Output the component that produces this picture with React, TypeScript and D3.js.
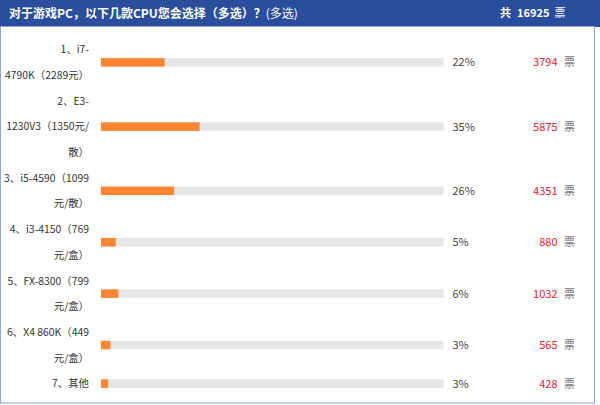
import React from "react";
import * as d3 from "d3";

const title = "对于游戏PC，以下几款CPU您会选择（多选）？";
const titleSuffix = "(多选)";
const total = 16925;
const labelLines: string[][] = [
  ["1、i7-", "4790K（2289元）"],
  ["2、E3-", "1230V3（1350元/", "散）"],
  ["3、i5-4590（1099", "元/散）"],
  ["4、i3-4150（769", "元/盒）"],
  ["5、FX-8300（799", "元/盒）"],
  ["6、X4 860K（449", "元/盒）"],
  ["7、其他"],
];
const votes = [3794, 5875, 4351, 880, 1032, 565, 428];
const percents = [22, 35, 26, 5, 6, 3, 3];

const W = 600;
const H = 405;
const FONT = "'Microsoft YaHei', 'Noto Sans CJK SC', sans-serif";

export default function App() {
  const lineH = 25.7;
  const firstLineY = 49.5;
  const starts = labelLines.map((_, i) =>
    d3.sum(labelLines.slice(0, i), (l) => l.length)
  );
  const totalLines = d3.sum(labelLines, (l) => l.length);
  const yLine = d3
    .scaleLinear()
    .domain([0, totalLines - 1])
    .range([firstLineY, firstLineY + (totalLines - 1) * lineH]);
  const trackX0 = 101;
  const trackX1 = 443.5;
  const xFill = d3.scaleLinear().domain([0, total]).range([0, 284]);
  const barH = 8.5;

  return (
    <svg
      width={W}
      height={H}
      style={{ position: "fixed", left: 0, top: 0, background: "#fff" }}
      fontFamily={FONT}
    >
      <rect x={0} y={0} width={W} height={27} fill="#2b4e9c" />
      <rect
        x={0.5}
        y={26.5}
        width={594}
        height={376.5}
        fill="none"
        stroke="#8ea5d6"
        strokeWidth={1}
      />
      <text x={9} y={13.5} dy="0.36em" fill="#fff" fontSize={12} fontWeight="bold">
        {title}
        <tspan fontWeight="normal">{titleSuffix}</tspan>
      </text>
      <g fill="#fff" fontSize={11} fontWeight="bold">
        <text x={500} y={13.5} dy="0.36em">共</text>
        <text x={517} y={13.5} dy="0.36em">{total}</text>
        <text x={554.5} y={13.5} dy="0.36em" fill="#d0d8ea">票</text>
      </g>
      {labelLines.map((lines, i) => {
        const yc = yLine(starts[i] + (lines.length - 1) / 2);
        return (
          <g key={i}>
            {lines.map((ln, j) => (
              <text
                key={j}
                x={89}
                y={yLine(starts[i] + j)}
                dy="0.36em"
                textAnchor="end"
                fontSize={10.4}
                fill="#333"
              >
                {ln}
              </text>
            ))}
            <rect x={trackX0} y={yc - barH / 2} width={trackX1 - trackX0} height={barH} fill="#e6e6e6" />
            <rect x={trackX0} y={yc - barH / 2} width={xFill(votes[i])} height={barH} fill="#ff8533" />
            <text x={452.5} y={yc} dy="0.36em" fontSize={11} fill="#444">
              {percents[i] + "%"}
            </text>
            <text x={557.5} y={yc} dy="0.36em" textAnchor="end" fontSize={11} fill="#e4202e">
              {votes[i]}
            </text>
            <text x={564} y={yc} dy="0.36em" fontSize={11} fill="#777">
              票
            </text>
          </g>
        );
      })}
    </svg>
  );
}
